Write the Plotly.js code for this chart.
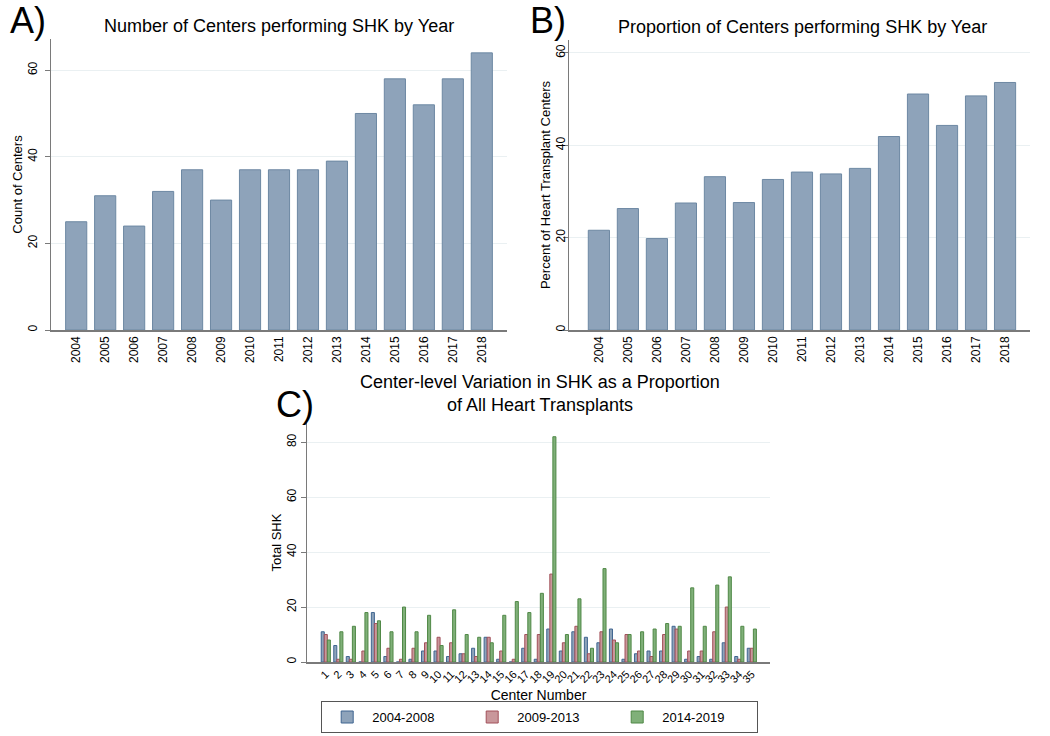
<!DOCTYPE html>
<html>
<head>
<meta charset="utf-8">
<script src="https://cdn.plot.ly/plotly-3.0.1.min.js"></script>
<style>
  html, body { margin: 0; padding: 0; background: #fff; }
  #chart { width: 1050px; height: 736px; }
</style>
</head>
<body>
<div id="chart"></div>
<script>
const years = ['2004', '2005', '2006', '2007', '2008', '2009', '2010', '2011', '2012', '2013', '2014', '2015', '2016', '2017', '2018'];
const centerCounts = [25, 31, 24, 32, 37, 30, 37, 37, 37, 39, 50, 58, 52, 58, 64];
const centerPercents = [21.6, 26.3, 19.8, 27.5, 33.2, 27.6, 32.6, 34.2, 33.8, 35.0, 41.9, 51.1, 44.3, 50.7, 53.6];

const centers = ['1', '2', '3', '4', '5', '6', '7', '8', '9', '10', '11', '12', '13', '14', '15', '16', '17', '18',
  '19', '20', '21', '22', '23', '24', '25', '26', '27', '28', '29', '30', '31', '32', '33', '34', '35'];
const shk2004 = [11, 6, 2, 0, 18, 2, 0, 1, 4, 4, 2, 3, 5, 9, 1, 0, 5, 1, 12, 4, 11, 9, 7, 12, 1, 3, 4, 4, 13, 1, 2, 1, 7, 2, 5];
const shk2009 = [10, 1, 1, 4, 14, 5, 1, 5, 7, 9, 7, 3, 2, 9, 4, 1, 10, 10, 32, 7, 13, 3, 11, 8, 10, 4, 2, 10, 12, 4, 4, 11, 20, 1, 5];
const shk2014 = [8, 11, 13, 18, 15, 11, 20, 11, 17, 6, 19, 10, 9, 7, 17, 22, 18, 25, 82, 10, 23, 5, 34, 7, 10, 11, 12, 14, 13, 27, 13, 28, 31, 13, 12];
const periodLabels = ['2004-2008', '2009-2013', '2014-2019'];
const yTicks = [0, 20, 40, 60, 80];

const W = 1050, H = 736;
const px = (a, b) => [a / W, b / W];
const py = (top, bottom) => [(H - bottom) / H, (H - top) / H];

const font = 'Liberation Sans, Arial, sans-serif';
const axisColor = '#7a7a7a';
const gridColor = '#eaf0f2';

const yearBar = {
  type: 'bar',
  marker: { color: '#8ea3ba', line: { color: '#6d88a3', width: 1 } },
  showlegend: false,
  hoverinfo: 'x+y'
};

const traces = [
  Object.assign({}, yearBar, { x: years, y: centerCounts, xaxis: 'x', yaxis: 'y' }),
  Object.assign({}, yearBar, { x: years, y: centerPercents, xaxis: 'x2', yaxis: 'y2' }),
  {
    type: 'bar', x: centers, y: shk2004, name: periodLabels[0], xaxis: 'x3', yaxis: 'y3',
    marker: { color: '#8ea3ba', line: { color: '#3f6590', width: 1 } }
  },
  {
    type: 'bar', x: centers, y: shk2009, name: periodLabels[1], xaxis: 'x3', yaxis: 'y3',
    marker: { color: '#c9979b', line: { color: '#a2505a', width: 1 } }
  },
  {
    type: 'bar', x: centers, y: shk2014, name: periodLabels[2], xaxis: 'x3', yaxis: 'y3',
    marker: { color: '#80b079', line: { color: '#4f8846', width: 1 } }
  }
];

function xAxis(domain, range, tickangle, size, ticks) {
  return {
    domain, type: 'category', range, tickangle,
    tickmode: 'array', tickvals: ticks, ticktext: ticks,
    showline: true, linecolor: axisColor, linewidth: 1.5,
    ticks: '', showgrid: false, zeroline: false, fixedrange: true,
    tickfont: { family: font, size, color: '#000' }
  };
}

function yAxis(domain, range, titleText, labelShift) {
  return {
    domain, range, tickvals: yTicks, tickangle: -90,
    showline: true, linecolor: axisColor, linewidth: 1.5,
    ticks: 'outside', ticklen: 5, tickcolor: axisColor,
    ticklabelstandoff: labelShift,
    showgrid: true, gridcolor: gridColor, zeroline: false, fixedrange: true,
    tickfont: { family: font, size: 12, color: '#000' },
    title: { text: titleText, font: { family: font, size: 13, color: '#000' }, standoff: 0 }
  };
}

const labelFont = { family: font, size: 36, color: '#000' };
const titleFont = { family: font, size: 18, color: '#000' };

const layout = {
  width: W, height: H,
  margin: { l: 0, r: 0, t: 0, b: 0 },
  paper_bgcolor: '#fff', plot_bgcolor: '#fff',
  barmode: 'group', bargap: 0.27, bargroupgap: 0,
  xaxis: xAxis(px(51, 507), [-0.87, 14.87], -90, 12, years),
  yaxis: Object.assign(yAxis(py(39, 330), [0, 67.2], 'Count of Centers', 3), { anchor: 'x' }),
  xaxis2: Object.assign(xAxis(px(569, 1030), [-1.03, 14.86], -90, 12, years), { anchor: 'y2' }),
  yaxis2: Object.assign(yAxis(py(40, 330), [0, 62.8], 'Percent of Heart Transplant Centers', -7), { anchor: 'x2' }),
  xaxis3: Object.assign(xAxis(px(307, 770), [-1.5, 35.45], -45, 11, centers), {
    anchor: 'y3',
    title: { text: 'Center Number', font: { family: font, size: 14, color: '#000' }, standoff: 6 }
  }),
  yaxis3: Object.assign(yAxis(py(423, 662), [0, 87], 'Total SHK', 0), { anchor: 'x3' }),
  legend: {
    orientation: 'h', x: 0.514, xanchor: 'center', y: 0.004, yanchor: 'bottom',
    bordercolor: '#555', borderwidth: 1, bgcolor: '#fff',
    font: { family: font, size: 13, color: '#000' },
    itemwidth: 40, entrywidth: 90, entrywidthmode: 'pixels',
    traceorder: 'normal'
  },
  annotations: [
    { text: 'A)', x: 8 / W, y: (H - 20) / H, xref: 'paper', yref: 'paper', xanchor: 'left', yanchor: 'middle', showarrow: false, font: labelFont },
    { text: 'Number of Centers performing SHK by Year', x: 279 / W, y: (H - 26) / H, xref: 'paper', yref: 'paper', xanchor: 'center', yanchor: 'middle', showarrow: false, font: titleFont },
    { text: 'B)', x: 528 / W, y: (H - 20) / H, xref: 'paper', yref: 'paper', xanchor: 'left', yanchor: 'middle', showarrow: false, font: labelFont },
    { text: 'Proportion of Centers performing SHK by Year', x: 802 / W, y: (H - 27) / H, xref: 'paper', yref: 'paper', xanchor: 'center', yanchor: 'middle', showarrow: false, font: titleFont },
    { text: 'C)', x: 274 / W, y: (H - 404) / H, xref: 'paper', yref: 'paper', xanchor: 'left', yanchor: 'middle', showarrow: false, font: labelFont },
    { text: 'Center-level Variation in SHK as a Proportion<br>of All Heart Transplants', x: 540 / W, y: (H - 393) / H, xref: 'paper', yref: 'paper', xanchor: 'center', yanchor: 'middle', showarrow: false, font: titleFont }
  ]
};

Plotly.newPlot('chart', traces, layout, { displayModeBar: false, staticPlot: true });
</script>
</body>
</html>
